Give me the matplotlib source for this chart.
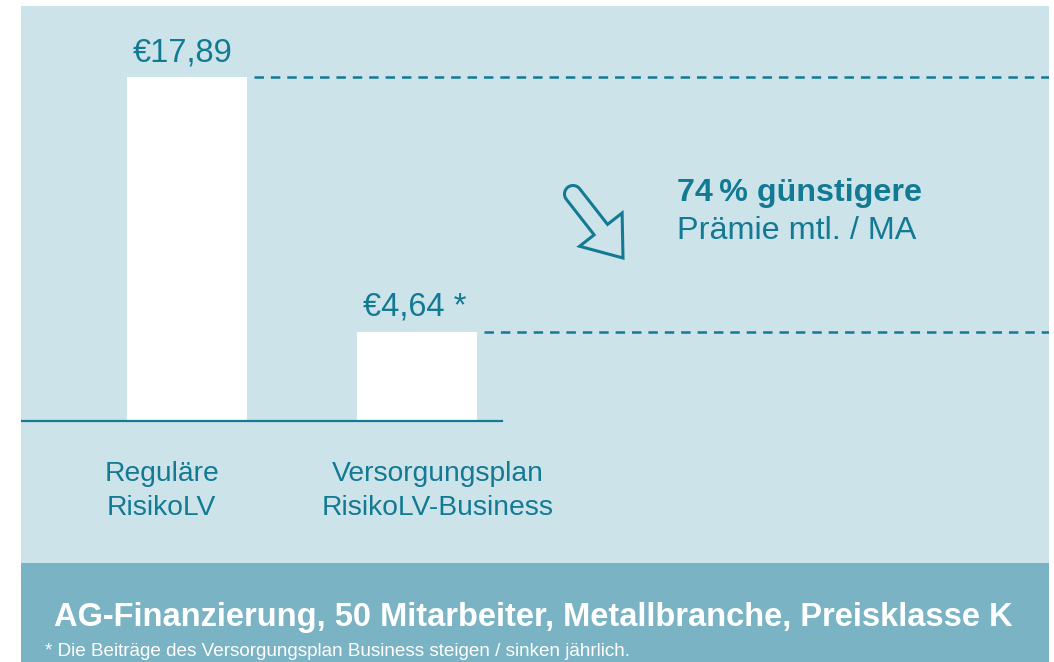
import matplotlib
matplotlib.use("Agg")
import numpy as np
import matplotlib.pyplot as plt
import matplotlib.patches as mpatches

plt.rcParams['font.family'] = ['Liberation Sans', 'DejaVu Sans']
plt.rcParams['lines.scale_dashes'] = False

# data
categories = ["Reguläre\nRisikoLV", "Versorgungsplan\nRisikoLV-Business"]
values = [17.89, 4.64]
value_labels = ["€17,89", "€4,64 *"]
callout_bold = "74\u2009% günstigere"
callout_text = "Prämie mtl. / MA"
band_title = "AG-Finanzierung, 50 Mitarbeiter, Metallbranche, Preisklasse K"
footnote = "* Die Beiträge des Versorgungsplan Business steigen / sinken jährlich."

TEAL = "#137a93"
LIGHT = "#cde3ea"
BAND = "#7ab3c4"

W, H = 1054, 662
fig = plt.figure(figsize=(W / 100, H / 100), dpi=100)
fig.patch.set_facecolor("white")

def fx(px):
    return px / W

def fy(py):
    return 1 - py / H

# background panels
fig.patches.append(mpatches.Rectangle((fx(21), fy(563)), fx(1049) - fx(21), fy(6) - fy(563),
                                      transform=fig.transFigure, fc=LIGHT, ec="none", zorder=-10))
fig.patches.append(mpatches.Rectangle((fx(21), 0), fx(1049) - fx(21), fy(563),
                                      transform=fig.transFigure, fc=BAND, ec="none", zorder=-10))

# bar axes over the light panel
ax = fig.add_axes([fx(21), fy(563), fx(1049) - fx(21), fy(6) - fy(563)])
ax.set_facecolor("none")
ppu = 344 / values[0]          # pixels per euro
base_px = 421
ax.set_ylim(-(563 - base_px) / ppu, (base_px - 6) / ppu)
ax.set_xlim((21 - 187) / 230, (1049 - 187) / 230)
ax.axis("off")

pos = list(range(len(values)))
bw = 120 / 230
ax.bar(pos, values, width=bw, color="white", zorder=2)
ax.axhline(0, xmin=0, xmax=(502 - 21) / 1028, color=TEAL, lw=1.6, zorder=3)

xr = ax.get_xlim()[1]
val_shift = [-4, -2]
for p, v, lab, s in zip(pos, values, value_labels, val_shift):
    ax.hlines(v, p + bw / 2 + 7 / 230, xr, colors=TEAL, lw=1.8,
              linestyles=(0, (6.8, 5.0)), zorder=2)
    ax.annotate(lab, xy=(p, v), xytext=(s, 16), textcoords="offset pixels",
                ha="center", va="baseline", fontsize=23.5, color=TEAL)

label_shift = [-0.11, 0.09]
for p, c, s in zip(pos, categories, label_shift):
    ax.annotate(c, xy=(p + s, 0), xytext=(0, -40), textcoords="offset pixels",
                ha="center", va="top", fontsize=20.3, color=TEAL, linespacing=1.4)

# callout
fig.text(fx(677), fy(201), callout_bold, fontsize=23.2, fontweight="bold", color=TEAL,
         ha="left", va="baseline")
fig.text(fx(677), fy(239), callout_text, fontsize=23.3, color=TEAL,
         ha="left", va="baseline")

# hollow arrow with rounded tail (pixel coordinates)
ov = fig.add_axes([0, 0, 1, 1])
ov.set_xlim(0, W)
ov.set_ylim(H, 0)
ov.axis("off")
tail = np.array([573.0, 194.0])
tip = np.array([623.0, 258.0])
L = np.linalg.norm(tip - tail)
u = (tip - tail) / L
n = np.array([-u[1], u[0]])
hw, hh, hl = 8.5, 27.0, 36.0
t = np.linspace(np.pi / 2, 3 * np.pi / 2, 20)
local = [(np.cos(a) * hw, np.sin(a) * hw) for a in t]
local += [(L - hl, -hw), (L - hl, -hh), (L, 0), (L - hl, hh), (L - hl, hw)]
pts = [tail + a * u + b * n for a, b in local]
ov.add_patch(mpatches.Polygon(pts, closed=True, fc="none", ec=TEAL, lw=2.2,
                              joinstyle="miter"))

# bottom band text
fig.text(fx(533), fy(626), band_title, fontsize=23.5, fontweight="bold", color="white",
         ha="center", va="baseline")
fig.text(fx(45), fy(656), footnote, fontsize=13.55, color="white", ha="left", va="baseline")

fig.savefig("out.png", dpi=100)
